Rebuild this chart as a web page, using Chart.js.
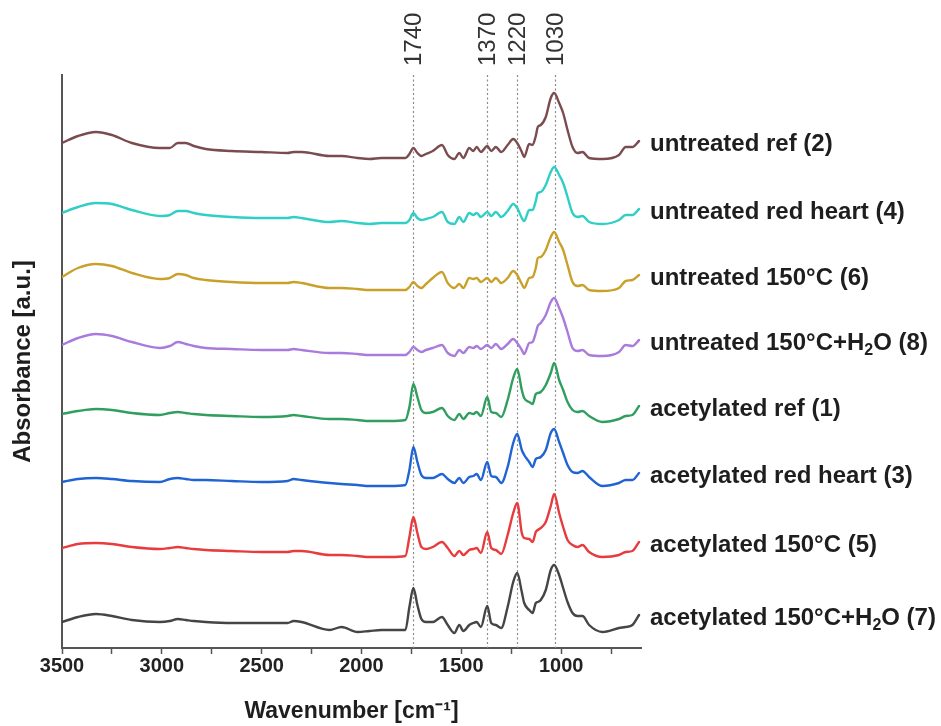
<!DOCTYPE html>
<html>
<head>
<meta charset="utf-8">
<script src="https://cdn.jsdelivr.net/npm/chart.js@4.4.1/dist/chart.umd.min.js"></script>
<style>
  html, body { margin: 0; padding: 0; background: #ffffff; }
  #wrap { width: 941px; height: 726px; position: relative; }
</style>
</head>
<body>
<div id="wrap"><canvas id="c" width="941" height="726"></canvas></div>
<script>
// ---- data (offsets are the plotted stacking) ----
const wavenumbers = [3500,3420,3330,3250,3150,3010,2960,2920,2880,2840,2780,2650,2500,2370,2340,2300,2160,2100,2020,1960,1900,
  1860,1780,1760,1740,1720,1700,1677,1643,1597,1568,1535,1510,1490,1460,1440,1423,1402,1370,1350,1327,
  1300,1268,1240,1220,1197,1185,1160,1143,1127,1117,1102,1077,1052,1035,1010,990,968,943,918,893,
  860,793,710,677,643,610];

const untreatedRef2 = [505,512,516,513,505,500,500,505,505,502,499,497,496,495,496,496,492,492,490,489,490,
  490,490,494,500,495,492,494,497,503,493,489,495,490,500,497,501,496,502,497,501,
  496,503,509,505,496,491,504,503,512,521,523,531,550,555,545,535,518,501,495,496,
  490,489,493,501,501,507];

const untreatedRedHeart4 = [435,441,445,444,438,432,433,437,437,435,433,431,430,430,431,430,426,427,425,424,425,
  425,425,428,435,430,428,429,431,436,426,424,431,426,435,433,435,431,436,432,436,
  431,437,444,440,430,427,438,438,447,455,456,463,476,481,473,465,451,435,431,432,
  426,424,428,433,433,439];

const untreated150C6 = [371,380,384,382,375,369,370,374,373,370,368,366,365,365,366,365,360,360,359,358,358,
  358,358,361,366,362,360,364,370,376,365,360,364,360,370,369,370,366,370,366,370,
  365,370,377,373,364,360,370,371,380,390,391,398,411,416,406,398,383,366,362,363,
  358,357,360,367,368,373];

const untreated150CH2O8 = [303,310,314,312,306,300,302,306,304,302,300,299,298,298,299,298,295,295,294,293,293,
  293,293,296,301,298,296,298,300,303,295,292,298,295,301,300,302,299,303,300,304,
  299,304,309,305,298,294,305,306,315,322,325,333,346,350,340,330,316,300,297,298,
  293,292,296,303,302,308];

const acetylatedRef1 = [234,237,239,238,235,233,235,236,235,234,233,232,231,232,233,232,229,229,228,227,227,
  227,228,241,264,251,238,235,236,240,232,228,234,229,235,234,236,232,251,236,235,
  231,248,270,279,258,250,246,244,254,255,256,263,275,285,268,258,246,238,236,237,
  232,226,229,232,233,242];

const acetylatedRedHeart3 = [166,169,170,169,167,166,169,170,169,168,168,167,166,167,169,168,165,164,163,162,162,
  162,163,178,201,186,173,170,170,174,169,165,170,165,171,172,174,168,186,172,171,
  165,181,205,214,198,193,186,181,189,190,191,198,215,219,206,195,183,176,175,177,
  171,162,165,168,168,175];

const acetylated150C5 = [100,104,105,104,101,99,100,101,100,99,98,97,96,96,97,97,93,93,92,91,91,
  91,92,111,131,115,101,99,101,106,100,92,97,93,98,99,100,95,116,100,98,
  94,113,135,145,115,110,109,106,116,118,120,126,142,154,135,121,108,103,101,103,
  96,91,93,96,97,106];

const acetylated150CH2O7 = [26,31,34,32,28,26,27,29,28,27,26,25,25,25,27,26,18,21,16,17,18,
  18,18,41,60,43,29,26,26,31,23,15,23,17,23,25,26,21,42,25,23,
  20,41,66,75,56,45,38,35,45,46,48,58,78,83,73,60,46,35,32,32,
  23,16,20,21,23,33];

const seriesNames = [
  'untreated ref (2)',
  'untreated red heart (4)',
  'untreated 150°C (6)',
  'untreated 150°C+H₂O (8)',
  'acetylated ref (1)',
  'acetylated red heart (3)',
  'acetylated 150°C (5)',
  'acetylated 150°C+H₂O (7)'
];
const seriesValues = [untreatedRef2, untreatedRedHeart4, untreated150C6, untreated150CH2O8,
  acetylatedRef1, acetylatedRedHeart3, acetylated150C5, acetylated150CH2O7];
const seriesColors = ['#7a4c4f','#2fcfc6','#c9a12a','#a97bdc','#2f9e5e','#2064d4','#e83b3d','#454545'];

const peakPositions = [1740, 1370, 1220, 1030];
const peakLabels = ['1740', '1370', '1220', '1030'];
const xTickLabelled = [3500, 3000, 2500, 2000, 1500, 1000];

// ---- helpers ----
const FONT = '"Liberation Sans", Arial, Helvetica, sans-serif';

function drawRichText(ctx, text, x, y, size) {
  // handles subscript ₂ by drawing a smaller, lowered "2"
  const parts = text.split('₂');
  let cx = x;
  parts.forEach((p, i) => {
    ctx.font = 'bold ' + size + 'px ' + FONT;
    ctx.fillText(p, cx, y);
    cx += ctx.measureText(p).width;
    if (i < parts.length - 1) {
      const s = Math.round(size * 0.65);
      ctx.font = 'bold ' + s + 'px ' + FONT;
      ctx.fillText('2', cx, y + size * 0.3);
      cx += ctx.measureText('2').width;
    }
  });
}

const annotationPlugin = {
  id: 'annot',
  beforeDatasetsDraw(chart) {
    const {ctx, chartArea, scales} = chart;
    ctx.save();
    ctx.strokeStyle = '#8a8a8a';
    ctx.lineWidth = 1.2;
    ctx.setLineDash([2, 2.5]);
    peakPositions.forEach(p => {
      const x = Math.round(scales.x.getPixelForValue(p)) + 0.5;
      ctx.beginPath();
      ctx.moveTo(x, chartArea.top);
      ctx.lineTo(x, chartArea.bottom);
      ctx.stroke();
    });
    ctx.restore();
  },
  afterDraw(chart) {
    const {ctx, chartArea, scales} = chart;
    ctx.save();
    // peak labels (rotated)
    ctx.fillStyle = '#333333';
    ctx.font = '24px ' + FONT;
    ctx.textAlign = 'left';
    ctx.textBaseline = 'middle';
    peakPositions.forEach((p, i) => {
      const x = scales.x.getPixelForValue(p);
      ctx.save();
      ctx.translate(x, chartArea.top - 9);
      ctx.rotate(-Math.PI / 2);
      ctx.fillText(peakLabels[i], 0, 1);
      ctx.restore();
    });
    // series labels at right end of each trace
    ctx.fillStyle = '#1e1e1e';
    ctx.textAlign = 'left';
    ctx.textBaseline = 'middle';
    chart.data.datasets.forEach((ds, i) => {
      const last = ds.data[ds.data.length - 1];
      const y = scales.y.getPixelForValue(last.y) + 3;
      drawRichText(ctx, ds.label, chartArea.right + 9, y, 24);
    });
    ctx.restore();
  }
};

const datasets = seriesValues.map((vals, i) => ({
  label: seriesNames[i],
  data: wavenumbers.map((w, j) => ({x: w, y: vals[j]})),
  borderColor: seriesColors[i],
  backgroundColor: seriesColors[i],
  borderWidth: 2.4,
  pointRadius: 0,
  cubicInterpolationMode: 'monotone',
  borderJoinStyle: 'round',
  borderCapStyle: 'round',
  fill: false
}));

new Chart(document.getElementById('c'), {
  type: 'line',
  data: { datasets },
  options: {
    responsive: false,
    animation: false,
    devicePixelRatio: 1,
    layout: { padding: { top: 75, right: 300, left: 0, bottom: 0 } },
    plugins: { legend: { display: false }, tooltip: { enabled: false } },
    scales: {
      x: {
        type: 'linear',
        reverse: true,
        min: 600,
        max: 3500,
        afterFit(scale) { scale.height = 78; },
        ticks: {
          stepSize: 250,
          includeBounds: false,
          autoSkip: false,
          maxRotation: 0,
          padding: 0,
          color: '#222222',
          font: { family: FONT, size: 20, weight: 'bold' },
          callback: (v) => xTickLabelled.includes(v) ? String(v) : ''
        },
        grid: {
          display: true,
          drawOnChartArea: false,
          drawTicks: true,
          tickLength: 6,
          tickColor: '#555555',
          tickWidth: 1.5
        },
        border: { display: true, color: '#555555', width: 2 },
        title: {
          display: true,
          text: 'Wavenumber [cm⁻¹]',
          color: '#1e1e1e',
          font: { family: FONT, size: 23, weight: 'bold', lineHeight: 1.2 },
          padding: { top: 0, bottom: 1 }
        }
      },
      y: {
        type: 'linear',
        min: 0,
        max: 573,
        afterFit(scale) { scale.width = 62; },
        ticks: { display: false },
        grid: { display: false, drawTicks: false },
        border: { display: true, color: '#555555', width: 2 },
        title: {
          display: true,
          text: 'Absorbance [a.u.]',
          color: '#1e1e1e',
          font: { family: FONT, size: 24, weight: 'bold', lineHeight: 1.2 },
          padding: { top: 9, bottom: 0 }
        }
      }
    }
  },
  plugins: [annotationPlugin]
});
</script>
</body>
</html>
